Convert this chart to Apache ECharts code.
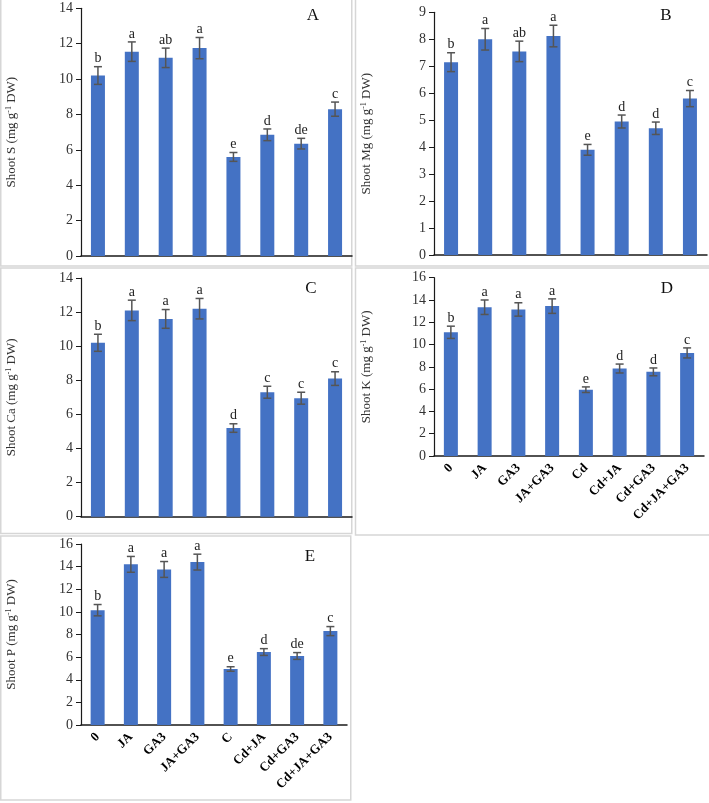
<!DOCTYPE html>
<html>
<head>
<meta charset="utf-8">
<script src="https://cdn.jsdelivr.net/npm/echarts@6/dist/echarts.min.js"></script>
<style>
html,body{margin:0;padding:0;background:#fff;}
#chart{width:709px;height:803px;}
</style>
</head>
<body>
<div id="chart"></div>
<script>
// ---- Data ----
const categories = ['0', 'JA', 'GA3', 'JA+GA3', 'Cd', 'Cd+JA', 'Cd+GA3', 'Cd+JA+GA3'];
const categoriesE = ['0', 'JA', 'GA3', 'JA+GA3', 'C', 'Cd+JA', 'Cd+GA3', 'Cd+JA+GA3'];

const sValues = [10.2, 11.55, 11.2, 11.75, 5.6, 6.85, 6.35, 8.3];
const sErrors = [0.5, 0.55, 0.55, 0.6, 0.25, 0.33, 0.3, 0.4];
const sLetters = ['b', 'a', 'ab', 'a', 'e', 'd', 'de', 'c'];

const mgValues = [7.15, 8.0, 7.55, 8.12, 3.9, 4.95, 4.7, 5.8];
const mgErrors = [0.35, 0.4, 0.38, 0.4, 0.2, 0.24, 0.23, 0.3];
const mgLetters = ['b', 'a', 'ab', 'a', 'e', 'd', 'd', 'c'];

const caValues = [10.2, 12.1, 11.6, 12.2, 5.2, 7.3, 6.95, 8.1];
const caErrors = [0.5, 0.6, 0.55, 0.6, 0.25, 0.35, 0.35, 0.4];
const caLetters = ['b', 'a', 'a', 'a', 'd', 'c', 'c', 'c'];

const kValues = [11.1, 13.35, 13.15, 13.45, 5.95, 7.85, 7.55, 9.25];
const kErrors = [0.55, 0.65, 0.6, 0.65, 0.25, 0.4, 0.35, 0.45];
const kLetters = ['b', 'a', 'a', 'a', 'e', 'd', 'd', 'c'];

const pValues = [10.15, 14.2, 13.75, 14.4, 4.95, 6.45, 6.1, 8.3];
const pErrors = [0.5, 0.7, 0.7, 0.7, 0.2, 0.3, 0.3, 0.4];
const pLetters = ['b', 'a', 'a', 'a', 'e', 'd', 'de', 'c'];

const panelLetters = ['A', 'B', 'C', 'D', 'E'];
const yTitles = ['Shoot S', 'Shoot Mg', 'Shoot Ca', 'Shoot K', 'Shoot P'];
const yMax = [14, 9, 14, 16, 16];
const yInterval = [2, 1, 2, 2, 2];

// ---- Layout ----
const FONT = '"Liberation Serif", "Times New Roman", serif';
const panels = [
  {grid: {left: 81, top: 8.3, width: 271, height: 247.7}, gap: 62, cats: categories, vals: sValues, errs: sErrors, lets: sLetters, showX: false, letterPos: [313, 16]},
  {grid: {left: 434, top: 12.3, width: 273, height: 242.7}, gap: 60, cats: categories, vals: mgValues, errs: mgErrors, lets: mgLetters, showX: false, letterPos: [666, 16]},
  {grid: {left: 81, top: 278, width: 271, height: 238.7}, gap: 62, cats: categories, vals: caValues, errs: caErrors, lets: caLetters, showX: false, letterPos: [311, 289]},
  {grid: {left: 434, top: 277.7, width: 270, height: 178.3}, gap: 60, cats: categories, vals: kValues, errs: kErrors, lets: kLetters, showX: true, letterPos: [667, 289]},
  {grid: {left: 81, top: 544, width: 266, height: 181}, gap: 62, cats: categoriesE, vals: pValues, errs: pErrors, lets: pLetters, showX: true, letterPos: [310, 557]}
];

const grids = [], xAxes = [], yAxes = [], series = [];
panels.forEach((p, i) => {
  grids.push(Object.assign({containLabel: false}, p.grid));
  xAxes.push({
    type: 'category', gridIndex: i, data: p.cats,
    axisLine: {show: true, lineStyle: {color: '#1a1a1a', width: 1.5}},
    axisTick: {show: false},
    axisLabel: {show: p.showX, rotate: 45, interval: 0, margin: 10, fontFamily: FONT, fontSize: 13, fontWeight: 'bold', color: '#000'}
  });
  yAxes.push({
    type: 'value', gridIndex: i, min: 0, max: yMax[i], interval: yInterval[i],
    name: yTitles[i] + ' (mg g{sup|-1} DW)',
    nameLocation: 'middle', nameRotate: 90, nameGap: p.gap,
    nameTextStyle: {fontFamily: FONT, fontSize: 13, color: '#333',
      rich: {sup: {fontFamily: FONT, fontSize: 8, verticalAlign: 'top', color: '#333', padding: [0, 0, 6, 0]}}},
    axisLine: {show: true, lineStyle: {color: '#1a1a1a', width: 1.2}},
    axisTick: {show: true, length: 5, lineStyle: {color: '#1a1a1a'}},
    axisLabel: {fontFamily: FONT, fontSize: 14, color: '#333', margin: 8},
    splitLine: {show: false}
  });
  series.push({
    type: 'bar', xAxisIndex: i, yAxisIndex: i, data: p.vals, barWidth: 14,
    itemStyle: {color: '#4472C4'}, silent: true
  });
  const errs = p.errs, lets = p.lets;
  series.push({
    type: 'custom', xAxisIndex: i, yAxisIndex: i, z: 5,
    data: p.vals.map((v, k) => [k, v, errs[k]]),
    renderItem: function (params, api) {
      const x = api.value(0), v = api.value(1), e = api.value(2);
      const top = api.coord([x, v + e]);
      const bot = api.coord([x, v - e]);
      const h = 4;
      const st = {stroke: '#555', lineWidth: 1.5};
      return {
        type: 'group', children: [
          {type: 'line', shape: {x1: top[0], y1: top[1], x2: bot[0], y2: bot[1]}, style: st},
          {type: 'line', shape: {x1: top[0] - h, y1: top[1], x2: top[0] + h, y2: top[1]}, style: st},
          {type: 'line', shape: {x1: bot[0] - h, y1: bot[1], x2: bot[0] + h, y2: bot[1]}, style: st},
          {type: 'text', style: {text: lets[params.dataIndex], x: top[0], y: top[1] - 1,
            textAlign: 'center', textVerticalAlign: 'bottom', font: '14px ' + FONT, fill: '#222'}}
        ]
      };
    }
  });
});

const borderStyle = {fill: 'none', stroke: '#d6d6d6', lineWidth: 1.5};
const graphics = [
  {type: 'rect', shape: {x: 0.75, y: -1, width: 351, height: 267}, style: borderStyle, silent: true},
  {type: 'rect', shape: {x: 355.5, y: -1, width: 355, height: 267}, style: borderStyle, silent: true},
  {type: 'rect', shape: {x: 0.75, y: 268, width: 351, height: 265.5}, style: borderStyle, silent: true},
  {type: 'rect', shape: {x: 355.5, y: 268, width: 355, height: 267}, style: borderStyle, silent: true},
  {type: 'rect', shape: {x: 0.75, y: 536, width: 350, height: 264}, style: borderStyle, silent: true}
];
panels.forEach((p, i) => {
  graphics.push({type: 'text', x: p.letterPos[0], y: p.letterPos[1], silent: true,
    style: {text: panelLetters[i], font: '17px ' + FONT, fill: '#111', textAlign: 'center', textVerticalAlign: 'middle'}});
});

const chart = echarts.init(document.getElementById('chart'), null, {renderer: 'canvas'});
chart.setOption({
  animation: false,
  backgroundColor: '#fff',
  grid: grids, xAxis: xAxes, yAxis: yAxes, series: series,
  graphic: graphics
});
</script>
</body>
</html>
